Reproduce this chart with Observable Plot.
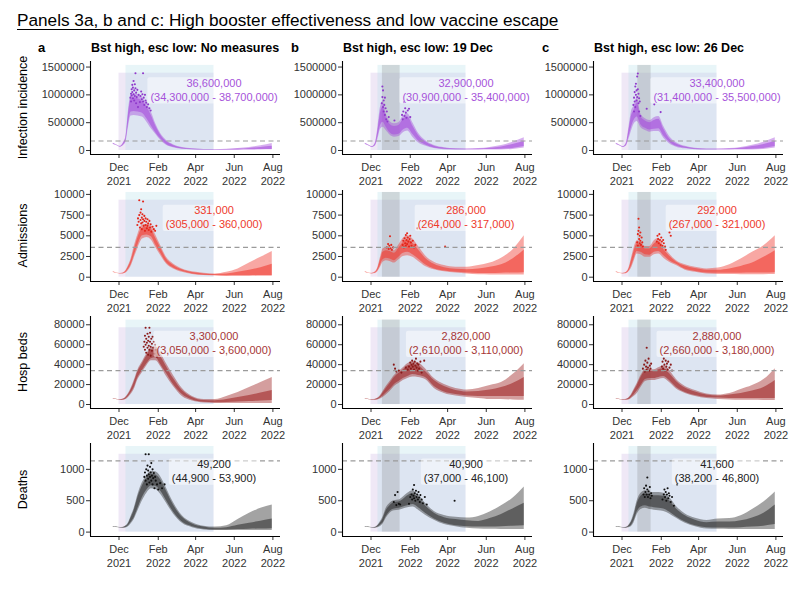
<!DOCTYPE html>
<html><head><meta charset="utf-8">
<script src="https://cdn.jsdelivr.net/npm/d3@7"></script>
<script src="https://cdn.jsdelivr.net/npm/@observablehq/plot@0.6"></script>
<style>
body{margin:0;background:#fff;}
#wrap{position:relative;width:812px;height:606px;overflow:hidden;background:#fff;}
</style></head><body><div id="wrap"></div><script>
// ---------- DATA ----------
const mainTitle = "Panels 3a, b and c: High booster effectiveness and low vaccine escape";
const scenarioTitles = ["Bst high, esc low: No measures", "Bst high, esc low: 19 Dec", "Bst high, esc low: 26 Dec"];
const tags = ["a", "b", "c"];
const rowTitles = ["Infection incidence", "Admissions", "Hosp beds", "Deaths"];

// model time grid: days after 1 Dec 2021
const days = [-9,-4,2,7,11,15,19,24,30,37,44,51,58,66,75,86,100,116,134,152,170,188,206,224,242];

// Infection incidence (thousands) [lower, upper]
const infA_outer = [[110,130],[90,105],[60,75],[90,140],[150,260],[420,720],[620,990],[630,1020],[620,1000],[600,950],[510,840],[390,690],[290,480],[180,300],[95,180],[50,105],[22,55],[12,30],[7,20],[5,18],[5,22],[6,35],[8,55],[10,85],[12,125]];
const infA_inner = [[114,126],[93,101],[63,72],[100,128],[180,230],[480,650],[690,920],[700,950],[690,930],[670,880],[570,780],[440,630],[320,440],[205,275],[110,160],[60,92],[28,46],[15,25],[9,16],[7,14],[8,17],[10,25],[13,38],[16,55],[20,75]];
const infB_outer = [[110,130],[85,100],[55,70],[80,140],[200,420],[380,780],[420,880],[360,660],[280,520],[240,480],[250,500],[320,620],[350,660],[240,500],[140,310],[80,180],[35,90],[15,50],[10,30],[8,28],[8,35],[8,55],[10,90],[20,150],[45,230]];
const infB_inner = [[115,125],[88,97],[58,67],[95,125],[250,360],[450,680],[510,780],[420,590],[320,470],[280,430],[290,450],[370,560],[400,600],[290,440],[170,270],[100,155],[45,75],[22,40],[14,25],[12,22],[14,28],[16,40],[22,65],[35,110],[70,160]];
const infC_outer = [[110,130],[85,100],[55,70],[80,140],[200,420],[350,700],[470,800],[520,950],[410,650],[360,570],[330,540],[340,590],[340,610],[220,430],[120,250],[60,140],[30,75],[15,40],[10,28],[8,28],[8,35],[8,55],[10,95],[20,150],[45,230]];
const infC_inner = [[115,125],[88,97],[58,67],[95,125],[250,360],[420,620],[540,720],[600,860],[460,600],[400,530],[370,500],[380,540],[390,560],[260,380],[150,210],[75,115],[40,62],[20,32],[14,23],[12,22],[14,28],[16,40],[22,70],[35,110],[70,160]];

// Admissions [lower, upper]
const admA_outer = [[580,650],[480,540],[400,460],[400,520],[500,800],[800,1400],[1300,2200],[2300,3700],[3500,5200],[4600,6300],[4800,6400],[4500,6200],[3600,5100],[2600,3800],[1600,2400],[1000,1600],[600,1000],[330,650],[200,480],[150,400],[100,600],[100,1000],[100,1700],[100,2400],[100,3100]];
const admA_inner = [[600,630],[500,520],[420,445],[430,490],[580,720],[950,1250],[1500,1950],[2600,3300],[3900,4800],[5000,5900],[5100,6100],[4900,5800],[3900,4700],[2850,3500],[1750,2200],[1100,1450],[680,900],[400,570],[250,400],[200,320],[150,380],[170,600],[180,850],[200,1150],[220,1550]];
const admB_outer = [[580,650],[480,540],[400,470],[450,650],[700,1200],[1200,2400],[1800,3400],[2000,3600],[1900,3400],[1700,3200],[2100,3900],[2500,4700],[2600,5000],[2400,4600],[1900,3700],[1300,2600],[900,1800],[650,1400],[500,1200],[400,1200],[300,1400],[280,1700],[270,2300],[270,3300],[280,5000]];
const admB_inner = [[600,630],[500,520],[420,450],[500,600],[800,1050],[1450,2100],[2100,3000],[2300,3200],[2200,3100],[2000,2900],[2400,3500],[2900,4200],[3000,4500],[2700,4100],[2200,3300],[1500,2300],[1000,1550],[750,1150],[600,950],[520,900],[450,1000],[450,1200],[480,1500],[500,2200],[550,3300]];
const admC_outer = [[580,650],[480,540],[400,470],[430,600],[650,1100],[1100,2300],[1900,3500],[2800,4400],[2700,4200],[2400,3700],[2400,3700],[2700,4400],[2800,4700],[2300,3700],[1800,2800],[1400,2000],[850,1500],[600,1200],[400,1000],[340,1100],[320,1500],[300,2200],[300,3000],[300,3800],[320,5000]];
const admC_inner = [[600,630],[500,520],[420,450],[480,560],[750,950],[1350,2000],[2200,3100],[3100,4000],[3000,3850],[2700,3400],[2650,3400],[3000,4000],[3100,4300],[2600,3350],[2000,2550],[1550,1850],[950,1350],[700,1050],[520,850],[480,850],[470,1000],[480,1300],[500,1700],[520,2400],[550,3200]];

// Hospital beds (thousands) [lower, upper]
const bedA_outer = [[5.5,6.0],[5.0,5.4],[4.3,4.8],[4.3,5.5],[5.0,7.5],[7,11],[10,16],[15,24],[25,35],[32,43],[39,51],[44,57],[44,58],[38,51],[28,41],[18,29],[8,16],[3.5,8],[1.5,5],[1,5],[1,8],[1,12],[1,17],[1,22],[1,27]];
const bedA_inner = [[5.6,5.9],[5.1,5.3],[4.4,4.7],[4.6,5.2],[5.6,6.8],[8,10],[11.5,14.5],[17,22],[27,33],[34,41],[41,49],[46,55],[47,55],[40,48],[31,38],[20,26],[10,14],[4.5,7],[2.2,4],[1.8,3.8],[2,5],[2.5,7],[3,9],[3.5,11.5],[4,14]];
const bedB_outer = [[5.5,6.0],[5.0,5.4],[4.3,4.8],[4.2,5.2],[4.5,6.5],[5.5,9],[7,13],[9.5,18],[13,23],[18,29],[21,33],[24,37],[26,41],[27.5,43],[27,42],[25,36],[16,26],[11,20],[8.5,16],[7,14.5],[6,16],[5,19],[5,22],[4.5,30],[4.3,41]];
const bedB_inner = [[5.6,5.9],[5.1,5.3],[4.4,4.7],[4.5,5.0],[5.0,6.0],[6.5,8],[8.5,11.5],[11.5,16],[15,21],[20,27],[23,31],[26,35],[28,39],[30,40],[29,39],[27,33],[18,24],[12.5,18],[10,14],[8.5,12.5],[8,13],[8,14.5],[8,17],[8,21],[8,27]];
const bedC_outer = [[5.5,6.0],[5.0,5.4],[4.3,4.8],[4.2,5.2],[4.5,6.8],[6,10],[8,15],[11,21],[17,29],[23,35],[24,35],[24,35],[25,37],[26,39],[22,34],[15.5,25],[11,18],[8,14],[6,10.5],[5,9.5],[4.6,11],[4.3,15],[4.2,19],[4,25],[4,36]];
const bedC_inner = [[5.6,5.9],[5.1,5.3],[4.4,4.7],[4.5,5.0],[5.0,6.2],[7,9],[9.5,13.5],[13.5,19],[19,27],[25,33],[26,33],[26,33],[27,35],[28,36],[24,31],[17,23],[12,16.5],[9,12.5],[7,9.5],[6.5,8.5],[6,9.5],[6,11],[6,13.5],[6,17],[6,24]];

// Deaths [lower, upper]
const dthA_outer = [[80,90],[75,85],[65,75],[62,78],[65,100],[85,150],[130,250],[200,380],[340,600],[500,790],[620,900],[690,970],[680,960],[600,880],[460,700],[290,470],[140,260],[70,150],[35,95],[25,80],[25,100],[25,200],[25,300],[25,380],[25,430]];
const dthA_inner = [[82,88],[78,82],[68,72],[66,74],[72,92],[100,135],[155,225],[230,350],[380,560],[550,740],[670,860],[740,920],[730,910],[650,830],[500,650],[320,430],[160,235],[85,130],[45,80],[35,60],[35,70],[40,110],[45,140],[50,175],[55,210]];
const dthB_outer = [[80,90],[75,85],[65,75],[62,78],[70,110],[90,170],[130,240],[220,380],[300,460],[340,500],[350,510],[370,560],[390,620],[400,660],[350,590],[270,460],[190,330],[120,265],[85,235],[60,225],[50,250],[45,320],[43,420],[43,540],[43,720]];
const dthB_inner = [[82,88],[78,82],[68,72],[66,74],[80,100],[110,150],[150,210],[250,340],[330,420],[370,470],[380,480],[400,520],[420,580],[440,610],[390,540],[300,420],[210,300],[140,230],[100,200],[85,180],[80,170],[80,215],[85,280],[95,370],[100,460]];
const dthC_outer = [[80,90],[75,85],[65,75],[62,78],[70,110],[90,180],[150,300],[280,500],[360,620],[380,660],[360,640],[350,630],[340,630],[330,620],[290,550],[220,410],[140,290],[85,220],[50,185],[45,210],[43,215],[43,260],[43,360],[43,480],[43,640]];
const dthC_inner = [[82,88],[78,82],[68,72],[66,74],[80,100],[110,160],[180,260],[320,450],[400,570],[420,610],[400,590],[390,580],[380,580],[370,570],[320,500],[240,370],[160,260],[100,190],[70,150],[65,160],[65,160],[70,180],[80,225],[95,300],[120,430]];

// observed points [day after 1 Dec 2021, value]
const infDotsA = [[18,950],[19,1020],[19,880],[20,1100],[20,990],[21,1180],[21,1050],[22,940],[22,1130],[23,1250],[23,1010],[24,1080],[24,900],[25,1190],[25,980],[26,1390],[26,1120],[27,1040],[27,850],[28,960],[29,1090],[30,780],[31,1000],[33,870],[34,980],[35,1060],[36,920],[37,1010],[38,1390],[38,880],[39,950],[40,820],[41,1000],[42,900],[43,860],[44,780],[46,830],[48,760],[50,720]];
const infDotsB = [[17,850],[18,1150],[18,960],[19,1080],[19,780],[20,900],[20,700],[21,820],[22,950],[22,640],[23,760],[24,560],[25,700],[26,520],[28,600],[37,540],[49,640],[50,560],[51,700],[52,870],[53,620],[54,760],[55,680],[56,590],[58,720],[60,750],[62,600]];
const infDotsC = [[18,820],[19,950],[19,700],[20,1050],[20,880],[21,1150],[21,780],[22,1000],[22,1200],[23,900],[23,1080],[24,1330],[24,960],[25,1385],[25,1100],[26,850],[26,1020],[27,940],[27,700],[28,880],[29,620],[39,750],[51,830],[61,690]];
const admDotsA = [[29,6300],[30,7100],[31,6700],[32,9300],[32,7500],[33,6000],[34,7800],[34,6900],[35,8200],[35,6500],[36,7200],[36,5800],[37,7600],[37,6600],[38,9150],[38,7000],[39,6200],[40,7400],[40,6800],[41,5600],[42,7100],[42,6300],[43,6700],[44,5900],[45,7000],[45,6200],[46,6500],[47,5700],[48,6800],[49,6000],[50,6400],[51,5500],[53,6100],[55,5800],[57,5600],[59,6200]];
const admDotsB = [[25,3600],[27,4000],[28,3400],[29,3800],[30,4950],[31,3500],[32,3900],[33,3300],[35,3600],[50,3900],[51,4400],[52,3600],[53,4700],[54,4100],[55,5100],[55,3800],[56,4500],[57,5300],[57,4000],[58,4800],[59,4300],[60,3700],[61,4600],[62,5000],[63,4200],[64,3800],[66,4400],[68,3600],[70,3900],[73,5900],[117,3700]];
const admDotsC = [[24,4200],[25,5200],[25,3800],[26,7050],[26,5600],[27,4600],[27,6000],[28,5000],[28,4100],[29,5400],[29,4400],[30,3900],[31,4800],[32,4200],[33,3700],[55,4300],[56,5000],[57,4600],[58,4100],[59,5200],[60,4500],[61,3900],[62,4800],[63,4300],[64,3800],[65,4500],[66,4100],[68,3700],[69,3300],[75,5400],[77,5000]];
const bedDotsA = [[39,58],[40,63],[41,55],[41,69],[42,60],[42,77],[43,52],[43,66],[44,62],[45,57],[45,71],[46,64],[46,50],[47,68],[47,59],[48,77],[48,55],[49,63],[49,72],[50,58],[50,49],[51,66],[52,61],[52,54],[53,68],[54,57],[55,63],[56,51],[57,60],[58,55],[60,48]];
const bedDotsB = [[36,40],[38,36],[40,33],[44,34],[48,32],[55,37],[58,35],[60,38],[62,42],[63,36],[64,40],[65,44],[66,38],[67,41],[68,35],[69,43],[70,39],[71,46],[72,37],[73,41],[74,34],[75,40],[76,36],[78,43],[80,32],[84,44]];
const bedDotsC = [[33,36],[35,40],[36,33],[37,44],[38,38],[39,57],[39,35],[40,42],[41,37],[42,46],[43,34],[44,39],[45,36],[46,41],[63,38],[64,43],[65,36],[66,46],[67,40],[68,34],[69,44],[70,38],[71,41],[72,35],[73,43],[75,37],[77,40],[79,34]];
const dthDotsA = [[40,880],[41,950],[42,1240],[42,820],[43,1000],[44,900],[44,760],[45,1060],[46,850],[46,980],[47,1240],[47,920],[48,790],[49,1040],[49,880],[50,950],[51,820],[51,1100],[52,900],[53,760],[53,1000],[54,860],[55,940],[56,700],[57,880],[58,820],[60,760],[62,680],[65,780],[68,700],[72,760]];
const dthDotsB = [[36,480],[38,590],[40,430],[42,640],[44,450],[46,440],[60,450],[62,560],[64,600],[65,520],[66,680],[67,580],[68,750],[68,540],[69,620],[70,500],[71,660],[72,560],[73,600],[74,520],[75,640],[76,550],[77,480],[78,590],[80,520],[82,460],[85,560],[88,440],[132,500]];
const dthDotsC = [[34,600],[35,700],[36,560],[37,640],[38,740],[39,600],[40,870],[40,680],[41,560],[42,650],[43,600],[44,720],[45,540],[46,620],[47,580],[64,520],[66,600],[67,680],[68,560],[69,640],[70,500],[71,600],[72,700],[73,540],[74,620],[75,580],[77,480],[79,560],[82,420],[87,760]];

// totals and intervals
const infTotals = ["36,600,000", "32,900,000", "33,400,000"];
const infRanges = ["(34,300,000 - 38,700,000)", "(30,900,000 - 35,400,000)", "(31,400,000 - 35,500,000)"];
const admTotals = ["331,000", "286,000", "292,000"];
const admRanges = ["(305,000 - 360,000)", "(264,000 - 317,000)", "(267,000 - 321,000)"];
const bedTotals = ["3,300,000", "2,820,000", "2,880,000"];
const bedRanges = ["(3,050,000 - 3,600,000)", "(2,610,000 - 3,110,000)", "(2,660,000 - 3,180,000)"];
const dthTotals = ["49,200", "40,900", "41,600"];
const dthRanges = ["(44,900 - 53,900)", "(37,000 - 46,100)", "(38,200 - 46,800)"];

// capacity thresholds (dashed lines), same units as series
const thresholds = [170, 3600, 34, 1135];
// y ticks
const infTicks = [0, 500000, 1000000, 1500000];
const admTicks = [0, 2500, 5000, 7500, 10000];
const bedTicks = [0, 20000, 40000, 60000, 80000];
const dthTicks = [0, 500, 1000];
// periods
const shadeStart = "2021-12-01", fitStart = "2021-12-12", shadeEnd = "2022-04-30";
const measureStart = [null, "2021-12-19", "2021-12-26"];
const measureEnd = [null, "2022-01-16", "2022-01-16"];
const xTickDates = ["2021-12-01", "2022-02-01", "2022-04-01", "2022-06-01", "2022-08-01"];

// ---------- LAYOUT / STYLE ----------
const FONT = '"Liberation Sans", Arial, Helvetica, sans-serif';
const D = s => new Date(s + "T00:00:00Z");
const toDate = d => new Date(Date.UTC(2021, 11, 1 + d));
const xDomain = [D("2021-10-17"), D("2022-08-13")];
const xTicks = xTickDates.map(D);
const fmtMon = d3.utcFormat("%b"), fmtYr = d3.utcFormat("%Y");
const colLeft = [90, 342, 593];
const PW = 190, ML = 58, MR = 4, MT = 4, MB = 40;
const labelDate = D("2022-04-30");

const rows = [
  {unit: 1000, outer: [infA_outer, infB_outer, infC_outer], inner: [infA_inner, infB_inner, infC_inner], dots: [infDotsA, infDotsB, infDotsC], totals: infTotals, ranges: infRanges, ticks: infTicks, labelY: 1100000, domain: [-72000, 1600000], top: 61, h: 93, band: "#a64fdc", dot: "#8f3acb", text: "#a653da"},
  {unit: 1, outer: [admA_outer, admB_outer, admC_outer], inner: [admA_inner, admB_inner, admC_inner], dots: [admDotsA, admDotsB, admDotsC], totals: admTotals, ranges: admRanges, ticks: admTicks, labelY: 7300, domain: [-519, 10470], top: 190, h: 91, band: "#f03c32", dot: "#e3261a", text: "#ee3a2c"},
  {unit: 1000, outer: [bedA_outer, bedB_outer, bedC_outer], inner: [bedA_inner, bedB_inner, bedC_inner], dots: [bedDotsA, bedDotsB, bedDotsC], totals: bedTotals, ranges: bedRanges, ticks: bedTicks, labelY: 62000, domain: [-4000, 88300], top: 316, h: 92, band: "#a02828", dot: "#8a1a1a", text: "#a63636"},
  {unit: 1, outer: [dthA_outer, dthB_outer, dthC_outer], inner: [dthA_inner, dthB_inner, dthC_inner], dots: [dthDotsA, dthDotsB, dthDotsC], totals: dthTotals, ranges: dthRanges, ticks: dthTicks, labelY: 980, domain: [-70, 1412], top: 443, h: 93, band: "#323232", dot: "#111111", text: "#222222"}
];

const wrap = document.getElementById("wrap");

rows.forEach((R, ri) => {
  const rowMax = d3.max(R.dots.flat(), p => p[1]) * R.unit;
  colLeft.forEach((cl, ci) => {
    const table = days.map((d, i) => ({
      date: toDate(d),
      olo: R.outer[ci][i][0] * R.unit, ohi: R.outer[ci][i][1] * R.unit,
      ilo: R.inner[ci][i][0] * R.unit, ihi: R.inner[ci][i][1] * R.unit
    }));
    const pts = R.dots[ci].map(([d, v]) => ({date: toDate(d), value: v * R.unit}));
    const marks = [
      Plot.rect([{x1: D(shadeStart), x2: D(shadeEnd), y1: 0, y2: rowMax}], {x1: "x1", x2: "x2", y1: "y1", y2: "y2", fill: "#c9b3e0", fillOpacity: 0.3}),
      Plot.rect([{x1: D(fitStart), x2: D(shadeEnd), y1: 0, y2: rowMax * 1.1}], {x1: "x1", x2: "x2", y1: "y1", y2: "y2", fill: "#b3dde8", fillOpacity: 0.3})
    ];
    if (measureStart[ci]) {
      marks.push(Plot.rect([{x1: D(measureStart[ci]), x2: D(measureEnd[ci]), y1: 0, y2: rowMax * 1.1}], {x1: "x1", x2: "x2", y1: "y1", y2: "y2", fill: "#808080", fillOpacity: 0.25}));
    }
    marks.push(
      Plot.areaY(table, {x: "date", y1: "olo", y2: "ohi", fill: R.band, fillOpacity: 0.45, curve: "monotone-x"}),
      Plot.areaY(table, {x: "date", y1: "ilo", y2: "ihi", fill: R.band, fillOpacity: 0.6, curve: "monotone-x"}),
      Plot.dot(pts, {x: "date", y: "value", r: 1.05, fill: R.dot}),
      Plot.ruleY([thresholds[ri] * R.unit], {stroke: "#9b9b9b", strokeWidth: 1.1, strokeDasharray: "5,3.5"}),
      Plot.axisX({ticks: xTicks, tickFormat: d => fmtMon(d) + "\n" + fmtYr(d), tickSize: 4, tickPadding: 3, label: null, lineHeight: 1.27, fontSize: 11, color: "#333"}),
      Plot.axisY({ticks: R.ticks, tickFormat: d => String(d), tickSize: 4, tickPadding: 2, label: null, fontSize: 11, color: "#333"}),
      Plot.ruleX([xDomain[0]], {stroke: "#000", strokeWidth: 1.1}),
      Plot.ruleY([R.domain[0]], {stroke: "#000", strokeWidth: 1.1}),
      Plot.text([{date: labelDate, y: R.labelY, t: R.totals[ci] + "\n" + R.ranges[ci]}], {x: "date", y: "y", text: "t", fill: R.text, fontSize: 11, lineHeight: 1.3})
    );
    const svg = Plot.plot({
      width: ML + PW + MR, height: MT + R.h + MB,
      marginLeft: ML, marginRight: MR, marginTop: MT, marginBottom: MB,
      x: {type: "utc", domain: xDomain, label: null},
      y: {domain: R.domain, label: null},
      style: {background: "transparent", fontFamily: FONT, fontSize: "11px", color: "#333", overflow: "visible"},
      marks
    });
    svg.style.position = "absolute";
    svg.style.left = (cl - ML) + "px";
    svg.style.top = (R.top - MT) + "px";
    svg.style.maxWidth = "none";
    wrap.appendChild(svg);
  });
});

// semi-transparent label boxes behind the annotations
document.querySelectorAll('#wrap svg g[aria-label="text"]').forEach(g => {
  const b = g.getBBox();
  const r = document.createElementNS("http://www.w3.org/2000/svg", "rect");
  r.setAttribute("x", b.x - 3); r.setAttribute("y", b.y + 0.5);
  r.setAttribute("width", b.width + 6); r.setAttribute("height", b.height);
  r.setAttribute("rx", 2); r.setAttribute("fill", "#ffffff"); r.setAttribute("fill-opacity", "0.5");
  r.setAttribute("stroke", "none");
  g.insertBefore(r, g.firstChild);
});

// titles, tags, row titles
const ov = d3.select(wrap).append("svg").attr("width", 812).attr("height", 606)
  .style("position", "absolute").style("left", "0px").style("top", "0px")
  .style("font-family", FONT).style("pointer-events", "none");
const tt = ov.append("text").attr("x", 17).attr("y", 26).attr("font-size", 17.2).attr("fill", "#000").text(mainTitle);
const tlen = tt.node().getComputedTextLength();
ov.append("line").attr("x1", 17).attr("x2", 17 + tlen).attr("y1", 29.5).attr("y2", 29.5).attr("stroke", "#000").attr("stroke-width", 1.2);
const tagX = [38, 291, 542];
tags.forEach((t, i) => ov.append("text").attr("x", tagX[i]).attr("y", 52).attr("font-size", 13).attr("font-weight", "bold").text(t));
scenarioTitles.forEach((t, i) => ov.append("text").attr("x", colLeft[i] + 1).attr("y", 52).attr("font-size", 12.5).attr("font-weight", "bold").text(t));
rows.forEach((R, i) => ov.append("text")
  .attr("transform", `translate(27,${R.top + R.h / 2}) rotate(-90)`)
  .attr("text-anchor", "middle").attr("font-size", 12.5).attr("fill", "#000").text(rowTitles[i]));
</script></body></html>
